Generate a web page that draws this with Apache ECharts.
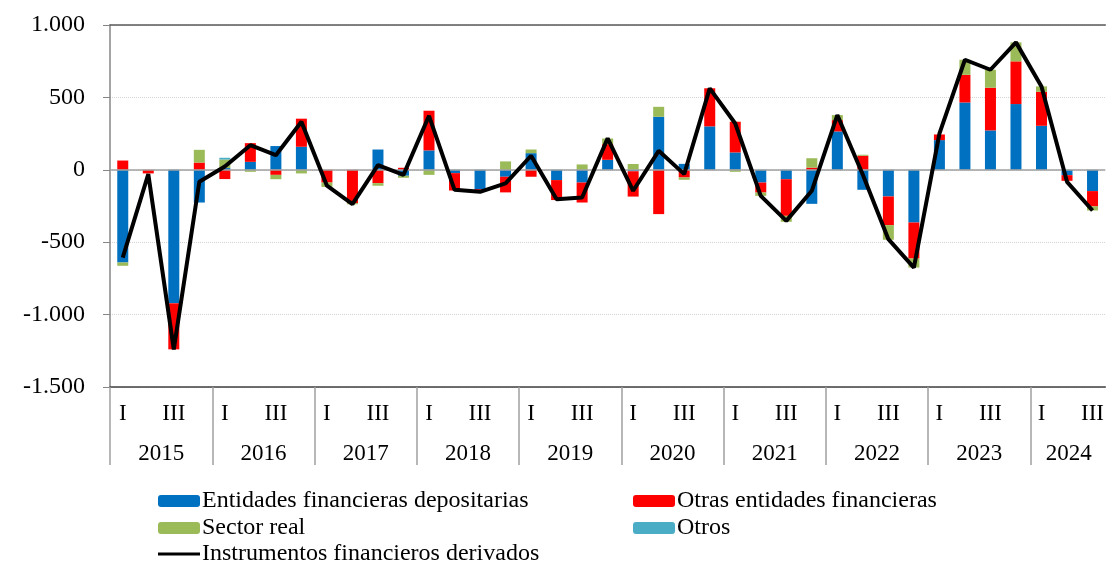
<!DOCTYPE html>
<html>
<head>
<meta charset="utf-8">
<script src="https://cdn.jsdelivr.net/npm/echarts@6/dist/echarts.min.js"></script>
<style>
html, body { margin: 0; padding: 0; background: #fff; }
#main { width: 1107px; height: 563px; }
</style>
</head>
<body>
<div id="main"></div>
<script>
var years = ['2015','2016','2017','2018','2019','2020','2021','2022','2023','2024'];
var quarterNames = ['I','II','III','IV'];

// 2015-I ... 2024-III
var entidades = [-640, 0, -922, -226,  12, 55, 164, 159,  0, 0, 140, -41,  134, -23, -134, -48,
    115, -71, -88, 69,  -10, 366, 41, 300,  120, -88, -65, -235,  265, -138, -184, -364,
    205, 465, 272, 454,  304, -37, -147];
var otras = [64, -25, -318, 50,  -64, 129, -35, 194,  -88, -230, -92, 14,  274, -120, -15, -108,
    -48, -138, -138, 108,  -175, -306, -53, 263,  212, -69, -253, 15,  78, 97, -198, -249,
    39, 191, 295, 295,  235, -39, -106];
var sectorReal = [-23, 0, 0, 88,  59, -14, -30, -25,  -30, -8, -18, -14,  -35, 0, 0, 58,
    25, 0, 37, 39,  40, 69, -16, 0,  -14, -23, -41, 65,  35, 7, -101, -62,
    0, 104, 124, 131,  37, 0, -28];
var otros = [0, 0, 0, 0,  12, 0, 0, 0,  0, 0, 0, 0,  0, 0, 0, 0,
    0, 0, 0, 0,  0, 0, 0, 0,  0, 0, 0, 0,  0, 0, 0, 0,
    0, 0, 0, 0,  0, 0, 0];
var derivados = [-606, -30, -1240, -83,  23, 170, 101, 332,  -110, -237, 32, -35,  373, -138, -152, -94,
    97, -203, -191, 217,  -145, 131, -30, 562,  320, -180, -353, -145,  378, -34, -479, -675,
    250, 760, 691, 880,  576, -83, -281];

var nQ = derivados.length;
var categories = [];
for (var i = 0; i < nQ; i++) {
    categories.push(years[Math.floor(i / 4)] + '-' + quarterNames[i % 4]);
}
// year separators and label centres in quarter units
var yearTicks = [], yearCenters = [];
for (var y = 0; y < years.length; y++) {
    var start = y * 4, end = Math.min(start + 4, nQ);
    yearTicks.push(start);
    yearCenters.push((start + end) / 2);
}

var font = 'Liberation Serif';
var txt = '#000';

// one legend per entry, laid out in two columns
function legendItem(name, left, top, extra) {
    var l = {
        left: left, top: top, itemWidth: 42, itemHeight: 12,
        textStyle: { fontFamily: font, fontSize: 24, color: txt, padding: [0, 0, 0, -3] },
        data: [name]
    };
    if (extra) for (var k in extra) l[k] = extra[k];
    return l;
}

var dom = document.getElementById('main');
var myChart = echarts.init(dom);

var option = {
    animation: false,
    textStyle: { fontFamily: font },
    grid: [
        { left: 110, right: 0, top: 25, bottom: 176 },
        { left: 110, right: 0, top: 25, bottom: 176 }
    ],
    legend: [
        legendItem('Entidades financieras depositarias', 153, 484),
        legendItem('Sector real', 153, 511),
        legendItem('Instrumentos financieros derivados', 153, 537,
            { icon: 'rect', itemHeight: 3, itemStyle: { color: '#000' } }),
        legendItem('Otras entidades financieras', 628, 484),
        legendItem('Otros', 628, 511)
    ],
    xAxis: [
        {
            type: 'category', gridIndex: 0, position: 'bottom', data: categories,
            axisLine: { onZero: false, lineStyle: { color: '#404040', width: 1.5 } },
            axisTick: { show: false },
            axisLabel: {
                interval: 0, margin: 15, fontFamily: font, fontSize: 23, color: txt,
                formatter: function (v, idx) {
                    var q = idx % 4;
                    return q === 0 ? 'I' : (q === 2 ? 'III' : '');
                }
            }
        },
        {
            type: 'category', gridIndex: 0, position: 'top', data: categories,
            axisLine: { onZero: false, lineStyle: { color: '#595959', width: 1.5 } },
            axisTick: { show: false },
            axisLabel: { show: false }
        },
        {
            type: 'value', gridIndex: 1, position: 'bottom', min: 0, max: nQ,
            axisLine: { show: false, onZero: false },
            splitLine: { show: false },
            axisTick: {
                show: true, length: 78, customValues: yearTicks,
                lineStyle: { color: '#a0a0a0', width: 1.5 }
            },
            axisLabel: {
                customValues: yearCenters, margin: 55, fontFamily: font, fontSize: 23, color: txt,
                formatter: function (v) {
                    return years[Math.floor(v / 4)];
                }
            }
        }
    ],
    yAxis: [
        {
            type: 'value', gridIndex: 0, min: -1500, max: 1000, interval: 500,
            axisLine: { show: true, lineStyle: { color: '#868686', width: 1.5 } },
            axisTick: { show: true, length: 7, lineStyle: { color: '#868686' } },
            splitLine: { show: true, lineStyle: { color: '#d4d4d4', type: 'dotted' } },
            axisLabel: {
                margin: 25, fontFamily: font, fontSize: 24, color: txt,
                formatter: function (v) {
                    var s = Math.abs(v).toString();
                    if (s.length > 3) s = s.slice(0, s.length - 3) + '.' + s.slice(s.length - 3);
                    return (v < 0 ? '-' : '') + s;
                }
            }
        },
        {
            type: 'value', gridIndex: 1, min: -1500, max: 1000, show: false
        }
    ],
    series: [
        {
            name: 'Entidades financieras depositarias', type: 'bar', stack: 'total',
            xAxisIndex: 0, yAxisIndex: 0, barWidth: 11,
            itemStyle: { color: '#0070c0' }, data: entidades,
            markLine: {
                silent: true, symbol: 'none', label: { show: false },
                lineStyle: { color: '#a0a0a0', type: 'solid', width: 1.5 },
                data: [{ yAxis: 0 }]
            }
        },
        {
            name: 'Otras entidades financieras', type: 'bar', stack: 'total',
            xAxisIndex: 0, yAxisIndex: 0, barWidth: 11,
            itemStyle: { color: '#ff0000' }, data: otras
        },
        {
            name: 'Sector real', type: 'bar', stack: 'total',
            xAxisIndex: 0, yAxisIndex: 0, barWidth: 11,
            itemStyle: { color: '#9bbb59' }, data: sectorReal
        },
        {
            name: 'Otros', type: 'bar', stack: 'total',
            xAxisIndex: 0, yAxisIndex: 0, barWidth: 11,
            itemStyle: { color: '#4bacc6' }, data: otros
        },
        {
            name: 'Instrumentos financieros derivados', type: 'line',
            xAxisIndex: 0, yAxisIndex: 0, symbol: 'none', z: 5,
            lineStyle: { color: '#000', width: 4 },
            itemStyle: { color: '#000' },
            data: derivados
        }
    ]
};

if (option && typeof option === "object") {
    myChart.setOption(option, true);
}
</script>
</body>
</html>
